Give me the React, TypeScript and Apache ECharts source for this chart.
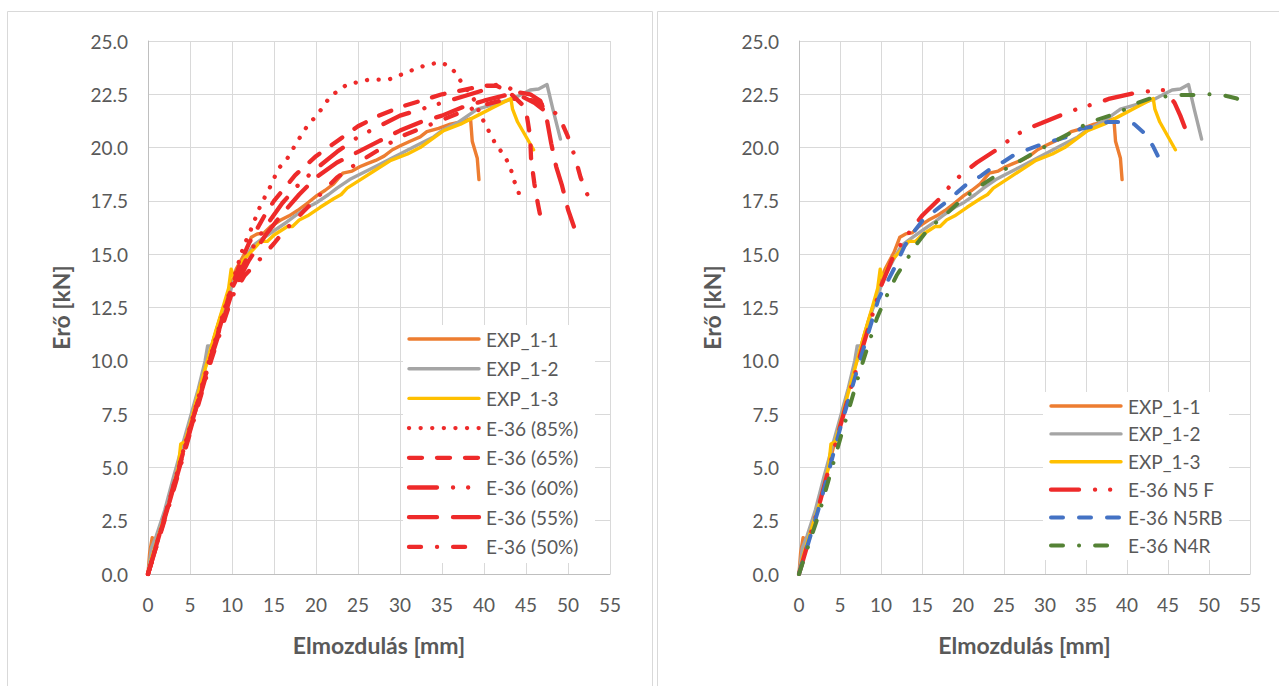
import React, { useEffect, useRef } from "react";
import * as echarts from "echarts";

// ---------- tick labels / axis ----------
const X_TICKS = [0, 5, 10, 15, 20, 25, 30, 35, 40, 45, 50, 55];
const Y_TICKS = [0, 2.5, 5, 7.5, 10, 12.5, 15, 17.5, 20, 22.5, 25];
const X_TITLE = "Elmozdulás [mm]";
const Y_TITLE = "Erő [kN]";

// ---------- experimental curves [displacement mm, force kN] ----------
const EXP_1_1: number[][] = [
  [0, 0], [0.2, 1.0], [0.5, 1.7], [0.9, 1.6], [1.5, 2.1], [2.5, 3.5], [3.5, 4.9], [4.5, 6.4],
  [5.5, 7.9], [6.5, 9.3], [7.5, 10.6], [8.5, 11.9], [9.5, 13.1], [10.5, 14.3], [11.6, 15.1],
  [12.3, 15.8], [13, 15.95], [13.8, 16.0], [14.6, 16.3], [15.8, 16.6], [16.8, 16.8], [17.8, 17.05],
  [19, 17.4], [20.1, 17.75], [21.1, 18.0], [22.1, 18.3], [23.2, 18.8], [24.3, 18.9], [25.2, 19.1],
  [26.1, 19.25], [27.1, 19.4], [28.1, 19.6], [29.1, 19.9], [30.1, 20.1], [31.2, 20.3], [32.4, 20.5],
  [33.2, 20.75], [34.6, 20.9], [36, 21.1], [37.2, 21.2], [38.4, 21.35], [38.6, 20.3], [39.2, 19.5],
  [39.4, 18.5],
];
const EXP_1_2: number[][] = [
  [0, 0], [0.4, 1.2], [1, 1.8], [2, 3.0], [3, 4.5], [4, 5.9], [5, 7.3], [6, 8.7], [6.8, 10.0],
  [7.1, 10.7], [7.6, 10.7], [8.5, 11.9], [9.5, 13.0], [10.5, 14.0], [11.6, 14.8], [12.5, 15.4],
  [13.5, 15.7], [15, 16.1], [16.5, 16.5], [17.5, 16.8], [19, 17.2], [20, 17.4], [21.5, 17.8],
  [22.5, 18.1], [24, 18.5], [25, 18.7], [26.5, 19.0], [27.5, 19.2], [29, 19.5], [30, 19.7],
  [31.5, 20.0], [32.5, 20.2], [34, 20.5], [35, 20.8], [37, 21.2], [39.2, 21.8], [41, 22.0],
  [43.5, 22.3], [45.5, 22.7], [46.5, 22.75], [47.5, 22.96], [48.2, 21.8], [49.1, 20.4],
];
const EXP_1_3: number[][] = [
  [0, 0], [0.4, 0.7], [1.5, 2.1], [2.5, 3.3], [3.6, 5.0], [3.9, 6.1], [4.4, 6.2], [5, 7.0],
  [6, 8.5], [7, 9.9], [8, 11.3], [9, 12.6], [9.6, 13.4], [9.9, 14.3], [10.3, 13.8], [10.8, 14.4],
  [11.5, 14.8], [12.6, 15.25], [13.4, 15.6], [14.2, 15.6], [15, 15.9], [16.6, 16.3], [17.2, 16.3],
  [18, 16.6], [19, 16.8], [20.5, 17.2], [22.1, 17.6], [23, 17.8], [23.7, 18.1], [25.3, 18.5],
  [26.9, 18.9], [28.9, 19.4], [30.9, 19.7], [32.4, 20.0], [33.8, 20.4], [35.2, 20.8], [37.2, 21.1],
  [39.2, 21.5], [41.2, 21.9], [43.2, 22.3], [43.4, 21.8], [44, 21.2], [45.9, 19.9],
];

// ---------- left chart: E-36 models ----------
const E36_85: number[][] = [
  [0, 0], [2.5, 3.4], [5, 6.9], [7.5, 10.3], [10, 13.6], [11.4, 15.4], [12, 15.9], [13.4, 17.3],
  [14.6, 18.2], [15.5, 19.0], [16.6, 19.5], [17.8, 20.3], [19.1, 21.1], [20.1, 21.5], [21.7, 22.4],
  [23.7, 22.96], [26.1, 23.17], [28.7, 23.2], [31, 23.56], [32.2, 23.75], [33.4, 23.9], [34.8, 24.0],
  [36, 23.8], [36.8, 23.4], [37.4, 23.0], [38.2, 22.6], [39, 22.15], [39.4, 21.7], [40, 21.2],
  [41.2, 20.3], [42.6, 19.5], [43.2, 19.0], [43.5, 18.5], [44, 18.1], [44.3, 17.6],
];
const E36_65: number[][] = [
  [0, 0], [2.5, 3.4], [5, 6.8], [7.5, 10.2], [10, 13.5], [11, 14.6], [12, 15.5], [13, 16.2],
  [14, 16.9], [15, 17.5], [17.5, 18.7], [20, 19.6], [22.5, 20.3], [25, 21.0], [27.5, 21.5],
  [30, 21.9], [32.5, 22.2], [35, 22.5], [37.5, 22.7], [40, 22.9], [41.5, 22.9], [43, 22.6],
  [44.6, 22.0], [45.1, 21.5], [45.5, 20.5], [45.6, 19.5], [46, 18.3], [46.4, 17.4], [46.8, 16.6],
];
const E36_60: number[][] = [
  [0, 0], [2.5, 3.3], [5, 6.8], [7.5, 10.2], [10, 13.4], [12, 15.0], [14, 16.3], [16, 17.4],
  [18, 18.3], [20, 19.0], [22.5, 19.8], [25, 20.5], [27.5, 21.0], [30, 21.5], [32.5, 21.8],
  [35, 22.1], [37.5, 22.4], [40, 22.7], [41.5, 22.95], [43, 22.8], [44.5, 22.4], [46, 22.1], [47, 21.8],
];
const E36_55: number[][] = [
  [0, 0], [2.5, 3.3], [5, 6.7], [7.5, 10.1], [10, 13.2], [12, 14.7], [14, 15.9], [16, 16.9],
  [18, 17.8], [20, 18.6], [22.5, 19.3], [25, 19.8], [27.5, 20.3], [30, 20.8], [32.5, 21.2],
  [35, 21.5], [37.5, 21.9], [40, 22.2], [42, 22.4], [44, 22.6], [45.5, 22.5], [46.7, 22.2],
  [47.4, 21.5], [48, 20.2], [48.6, 19.1], [49.3, 18.2], [50, 17.1], [50.7, 16.3],
];
const E36_50: number[][] = [
  [0, 0], [2.5, 3.2], [5, 6.6], [7.5, 10.0], [10, 13.0], [11.5, 14.0], [13.4, 14.8], [15, 15.5],
  [16, 16.0], [18.5, 17.0], [20, 17.6], [22.5, 18.6], [25, 19.3], [27.5, 19.9], [30, 20.5],
  [32.5, 20.9], [35, 21.3], [37.5, 21.7], [40, 22.0], [42, 22.2], [44, 22.3], [46, 22.2],
  [47.5, 21.9], [48.9, 21.5], [49.9, 20.6], [50.8, 19.6], [51.5, 18.6], [52.5, 17.6],
];

// ---------- right chart: E-36 variants ----------
const E36_N5F: number[][] = [
  [0, 0], [2.5, 3.3], [5, 6.9], [7.5, 10.3], [10, 13.5], [11.5, 14.9], [13, 15.8], [15, 16.8],
  [17.4, 17.7], [18.6, 18.3], [20, 18.8], [21.7, 19.3], [24.5, 20.0], [25.9, 20.45], [27.6, 20.85],
  [29.6, 21.15], [32.1, 21.55], [34.6, 21.9], [36.5, 22.1], [37.9, 22.3], [41.4, 22.6], [44.6, 22.7],
  [45.8, 22.1], [46.5, 21.5], [47.2, 20.8],
];
const E36_N5RB: number[][] = [
  [0, 0], [2.5, 3.2], [5, 6.8], [7.5, 10.1], [9.7, 12.9], [11.7, 14.4], [12.9, 15.4], [13.9, 16.0],
  [15.1, 16.6], [16.8, 17.1], [17.8, 17.4], [19.3, 17.9], [20.5, 18.3], [22.1, 18.65], [23.5, 19.05],
  [25, 19.35], [26.4, 19.7], [27.8, 19.9], [29.6, 20.15], [31.3, 20.35], [32.7, 20.5], [34.4, 20.9],
  [36.1, 21.0], [37.6, 21.2], [39.3, 21.2], [40.9, 21.1], [42.2, 20.65], [43.2, 20.05], [43.9, 19.5],
];
const E36_N4R: number[][] = [
  [0, 0], [2.5, 2.9], [5, 6.3], [7.5, 9.6], [9.5, 12.0], [10.7, 13.05], [11.9, 14.0], [13.4, 14.9],
  [14.4, 15.5], [15.4, 16.0], [16.6, 16.45], [18, 16.9], [19.4, 17.4], [20.7, 17.8], [22.1, 18.2],
  [23.7, 18.6], [25.2, 19.0], [26.6, 19.3], [28.4, 19.7], [29.8, 20.0], [31.2, 20.3], [32.9, 20.65],
  [34.5, 21.0], [36.3, 21.3], [37.9, 21.5], [39.5, 21.75], [41.3, 22.1], [42.8, 22.3], [44.7, 22.4],
  [46.5, 22.47], [48.1, 22.47], [50, 22.5], [51.8, 22.45], [53.4, 22.3], [54.9, 21.85],
];

// ---------- series names ----------
const LEFT_NAMES = ["EXP_1-1", "EXP_1-2", "EXP_1-3", "E-36 (85%)", "E-36 (65%)", "E-36 (60%)", "E-36 (55%)", "E-36 (50%)"];
const RIGHT_NAMES = ["EXP_1-1", "EXP_1-2", "EXP_1-3", "E-36 N5 F", "E-36 N5RB", "E-36 N4R"];
const LEFT_DATA = [EXP_1_1, EXP_1_2, EXP_1_3, E36_85, E36_65, E36_60, E36_55, E36_50];
const RIGHT_DATA = [EXP_1_1, EXP_1_2, EXP_1_3, E36_N5F, E36_N5RB, E36_N4R];

// ---------- styles ----------
const ORANGE = "#ED7D31";
const GRAY = "#A5A5A5";
const YELLOW = "#FFC000";
const RED = "#EE2A2A";
const BLUE = "#4472C4";
const GREEN = "#548235";
const DOT = [0.1, 11.5];
const DASH = [13, 15];
const LDDD = [28, 16, 0.1, 15, 0.1, 16];
const LDASH = [28, 16];
const DDOT = [12, 16, 0.1, 16];

type LS = { color: string; width: number; dash: number[] | null };
const LEFT_STYLES: LS[] = [
  { color: ORANGE, width: 3.4, dash: null },
  { color: GRAY, width: 3.4, dash: null },
  { color: YELLOW, width: 3.4, dash: null },
  { color: RED, width: 4.3, dash: DOT },
  { color: RED, width: 4.3, dash: DASH },
  { color: RED, width: 4.3, dash: LDDD },
  { color: RED, width: 4.3, dash: LDASH },
  { color: RED, width: 4.3, dash: DDOT },
];
const RIGHT_STYLES: LS[] = [
  { color: ORANGE, width: 3.4, dash: null },
  { color: GRAY, width: 3.4, dash: null },
  { color: YELLOW, width: 3.4, dash: null },
  { color: RED, width: 4.3, dash: LDDD },
  { color: BLUE, width: 4, dash: [12, 16] },
  { color: GREEN, width: 4, dash: DDOT },
];

const FONT = "Lato, 'Open Sans', sans-serif";
const TXT = "#595959";

function makeAxes(gridIndex: number, nameGapX: number) {
  const x = {
    gridIndex,
    type: "value",
    min: X_TICKS[0],
    max: X_TICKS[X_TICKS.length - 1],
    interval: X_TICKS[1] - X_TICKS[0],
    axisLine: { show: true, onZero: false, lineStyle: { color: "#bfbfbf", width: 1 } },
    axisTick: { show: false },
    axisLabel: { color: TXT, fontFamily: FONT, fontSize: 19, margin: 21 },
    splitLine: { show: true, lineStyle: { color: "#d9d9d9", width: 1 } },
    name: X_TITLE,
    nameLocation: "middle",
    nameGap: nameGapX,
    nameTextStyle: { color: TXT, fontFamily: FONT, fontWeight: "bold", fontSize: 23 },
  };
  const y = {
    gridIndex,
    type: "value",
    min: Y_TICKS[0],
    max: Y_TICKS[Y_TICKS.length - 1],
    interval: Y_TICKS[1] - Y_TICKS[0],
    axisLine: { show: true, onZero: false, lineStyle: { color: "#bfbfbf", width: 1 } },
    axisTick: { show: false },
    axisLabel: { color: TXT, fontFamily: FONT, fontSize: 19, margin: 20, formatter: (v: number) => v.toFixed(1) },
    splitLine: { show: true, lineStyle: { color: "#d9d9d9", width: 1 } },
    name: Y_TITLE,
    nameLocation: "middle",
    nameGap: 76,
    nameRotate: 90,
    nameTextStyle: { color: TXT, fontFamily: FONT, fontWeight: "bold", fontSize: 23 },
  };
  return { x, y };
}

function makeSeries(names: string[], data: number[][][], styles: LS[], idx: number) {
  return names.map((n, i) => ({
    name: n,
    type: "line",
    xAxisIndex: idx,
    yAxisIndex: idx,
    data: data[i],
    symbol: "none",
    smooth: false,
    lineStyle: {
      color: styles[i].color,
      width: styles[i].width,
      type: styles[i].dash ? styles[i].dash : "solid",
      cap: "round",
      join: "round",
    },
    itemStyle: { color: styles[i].color },
    z: 2 + i,
  }));
}

function makeLegend(names: string[], styles: LS[], box: { x: number; y: number; w: number; h: number }, firstRow: number, step: number, lineX: number, textX: number) {
  const els: any[] = [
    { type: "rect", shape: { x: box.x, y: box.y, width: box.w, height: box.h }, style: { fill: "#ffffff", stroke: null }, z: 100 },
  ];
  names.forEach((n, i) => {
    const y = firstRow + i * step;
    els.push({
      type: "line",
      shape: { x1: lineX, y1: y, x2: lineX + 70, y2: y },
      style: { stroke: styles[i].color, lineWidth: styles[i].width, lineDash: styles[i].dash || null, lineCap: "round" },
      z: 101,
    });
    els.push({
      type: "text",
      style: { text: n, x: textX, y, fill: TXT, fontFamily: FONT, fontSize: 19, verticalAlign: "middle", align: "left" },
      z: 101,
    });
  });
  return els;
}

export default function App() {
  const ref = useRef<HTMLDivElement>(null);
  useEffect(() => {
    if (!ref.current) return;
    const chart = echarts.init(ref.current, undefined, { renderer: "svg" });
    const a0 = makeAxes(0, 59);
    const a1 = makeAxes(1, 59);
    const option: any = {
      animation: false,
      backgroundColor: "#ffffff",
      grid: [
        { left: 148, top: 41, width: 462, height: 533 },
        { left: 799, top: 41, width: 451, height: 533 },
      ],
      xAxis: [a0.x, a1.x],
      yAxis: [a0.y, a1.y],
      series: [
        ...makeSeries(LEFT_NAMES, LEFT_DATA, LEFT_STYLES, 0),
        ...makeSeries(RIGHT_NAMES, RIGHT_DATA, RIGHT_STYLES, 1),
      ],
      graphic: [
        { type: "rect", shape: { x: 7.5, y: 11.5, width: 645, height: 700 }, style: { fill: null, stroke: "#d9d9d9", lineWidth: 1 }, z: -1, silent: true },
        { type: "rect", shape: { x: 657.5, y: 11.5, width: 640, height: 700 }, style: { fill: null, stroke: "#d9d9d9", lineWidth: 1 }, z: -1, silent: true },
        ...makeLegend(LEFT_NAMES, LEFT_STYLES, { x: 403, y: 325, w: 192, h: 238 }, 339, 29.7, 409, 486),
        ...makeLegend(RIGHT_NAMES, RIGHT_STYLES, { x: 1043, y: 392, w: 186, h: 168 }, 406, 27.9, 1051, 1128),
      ],
    };
    chart.setOption(option);
    return () => chart.dispose();
  }, []);
  return (
    <div
      ref={ref}
      style={{ position: "fixed", left: 0, top: 0, width: 1279, height: 686, background: "#fff" }}
    />
  );
}
